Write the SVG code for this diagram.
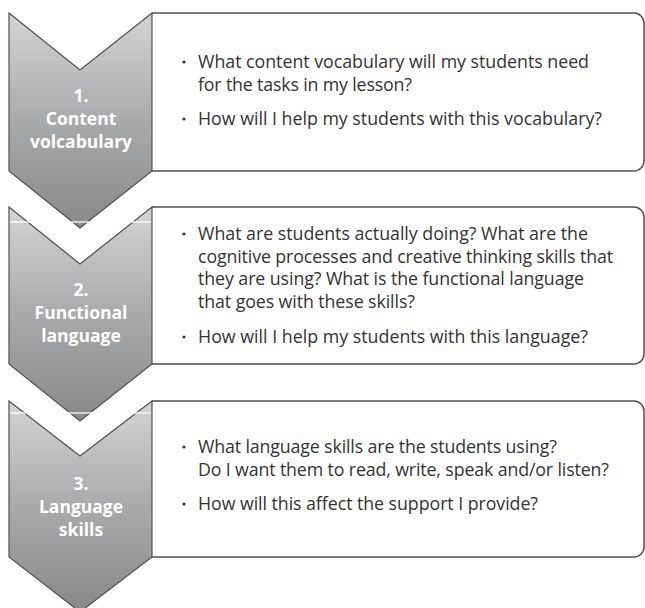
<svg xmlns="http://www.w3.org/2000/svg" width="645" height="608" viewBox="0 0 645 608">
  <defs>
    <linearGradient id="chevGrad" x1="0" y1="0" x2="0" y2="1">
      <stop offset="0" stop-color="#d3d4d6"/>
      <stop offset="0.5" stop-color="#a9aaac"/>
      <stop offset="1" stop-color="#87888a"/>
    </linearGradient>
  </defs>
  <style>
    .box { fill: #ffffff; stroke: #505050; stroke-width: 1.5; }
    .chev { fill: url(#chevGrad); stroke: #505050; stroke-width: 1.2; stroke-linejoin: miter; }
    .hl { stroke: #ffffff; stroke-width: 1.5; opacity: 0.85; }
    .lbl { font-family: "Open Sans", "Noto Sans", "DejaVu Sans", sans-serif; font-weight: bold; font-size: 17.5px; fill: #ffffff; text-anchor: middle; }
    .body { font-family: "Open Sans", "Noto Sans", "DejaVu Sans", sans-serif; font-size: 17.8px; fill: #333333; }
    .bul { fill: #333333; }
  </style>

  <g id="step1">
    <path class="box" d="M152,13 H634 A10,10 0 0 1 644,23 V161 A10,10 0 0 1 634,171 H152"/>
    <path class="chev" d="M9,13 L80,70 L152,13 L152,171 L80,228 L9,171 Z"/>
    <text class="lbl" x="81" y="102">1.</text>
    <text class="lbl" x="81" y="125">Content</text>
    <text class="lbl" x="81" y="148">volcabulary</text>
    <circle class="bul" cx="184" cy="62" r="1.6"/>
    <text class="body" x="198" y="68" textLength="391" lengthAdjust="spacing">What content vocabulary will my students need</text>
    <text class="body" x="198" y="90.5" textLength="214" lengthAdjust="spacing">for the tasks in my lesson?</text>
    <circle class="bul" cx="184" cy="119" r="1.6"/>
    <text class="body" x="198" y="125" textLength="404" lengthAdjust="spacing">How will I help my students with this vocabulary?</text>
  </g>

  <g id="step2">
    <path class="box" d="M152,207 H634 A10,10 0 0 1 644,217 V354 A10,10 0 0 1 634,364 H152"/>
    <path class="chev" d="M9,207 L80,264 L152,207 L152,364 L80,421 L9,364 Z"/>
    <line class="hl" x1="10" y1="222" x2="151" y2="222"/>
    <text class="lbl" x="81" y="296">2.</text>
    <text class="lbl" x="81" y="319">Functional</text>
    <text class="lbl" x="81" y="342">language</text>
    <circle class="bul" cx="184" cy="234" r="1.6"/>
    <text class="body" x="198" y="240" textLength="390" lengthAdjust="spacing">What are students actually doing? What are the</text>
    <text class="body" x="198" y="262.5" textLength="415" lengthAdjust="spacing">cognitive processes and creative thinking skills that</text>
    <text class="body" x="198" y="285" textLength="386" lengthAdjust="spacing">they are using? What is the functional language</text>
    <text class="body" x="198" y="307.5" textLength="217" lengthAdjust="spacing">that goes with these skills?</text>
    <circle class="bul" cx="184" cy="337" r="1.6"/>
    <text class="body" x="198" y="343" textLength="390" lengthAdjust="spacing">How will I help my students with this language?</text>
  </g>

  <g id="step3">
    <path class="box" d="M152,401 H634 A10,10 0 0 1 644,411 V547 A10,10 0 0 1 634,557 H152"/>
    <path class="chev" d="M9,401 L80,456 L152,401 L152,557 L80,612 L9,557 Z"/>
    <line class="hl" x1="10" y1="413" x2="151" y2="413"/>
    <text class="lbl" x="81" y="490">3.</text>
    <text class="lbl" x="81" y="513">Language</text>
    <text class="lbl" x="81" y="536">skills</text>
    <circle class="bul" cx="184" cy="447" r="1.6"/>
    <text class="body" x="198" y="453" textLength="359" lengthAdjust="spacing">What language skills are the students using?</text>
    <text class="body" x="198" y="475.5" textLength="411" lengthAdjust="spacing">Do I want them to read, write, speak and/or listen?</text>
    <circle class="bul" cx="184" cy="504" r="1.6"/>
    <text class="body" x="198" y="510" textLength="340" lengthAdjust="spacing">How will this affect the support I provide?</text>
  </g>

  <g id="connectors"/>
</svg>
